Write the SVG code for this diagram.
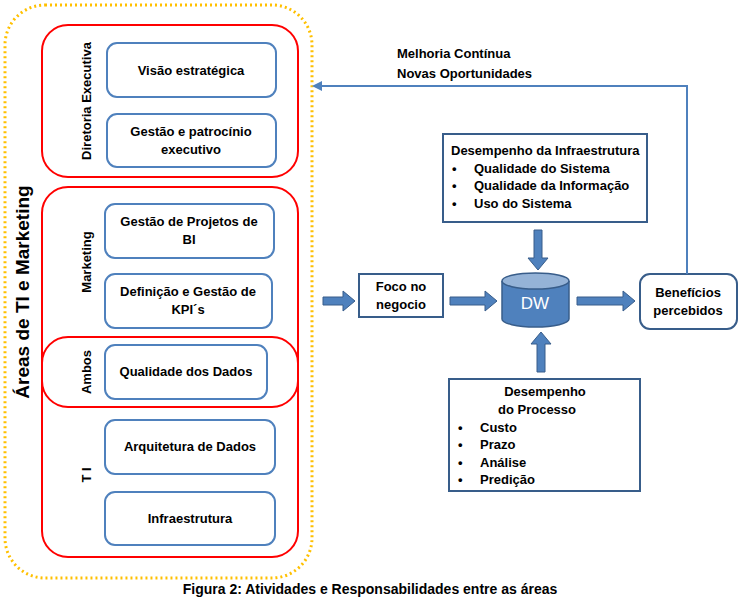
<svg xmlns="http://www.w3.org/2000/svg" width="740" height="601" viewBox="0 0 740 601">
<style>
text{font-family:"Liberation Sans",Arial,sans-serif;font-weight:bold;font-size:13px;fill:#000}
.b{fill:#fff;stroke:#4f81bd;stroke-width:2}
.r{fill:none;stroke:#ff0000;stroke-width:2}
.k{fill:#fff;stroke:#385d8a;stroke-width:2}
.ba{fill:#4f81bd;stroke:#385d8a;stroke-width:1}
.c{text-anchor:middle}
</style>
<defs><marker id="ah" markerWidth="10" markerHeight="10" refX="8" refY="5" orient="auto" markerUnits="userSpaceOnUse"><path d="M10,0 L0,5 L10,10z" transform="rotate(180 5 5)" fill="#4f81bd"/></marker></defs>
<rect x="5" y="5" width="307" height="573" rx="40" fill="none" stroke="#ffc000" stroke-width="3" stroke-dasharray="2 3"/>
<g id="dir"><rect class="r" x="42" y="25" width="256" height="152" rx="26"/><text class="c" transform="translate(91 101) rotate(-90)">Diretoria  Executiva</text></g>
<g id="mkt"><rect class="r" x="42" y="187" width="256" height="370" rx="26"/><text class="c" transform="translate(91 262) rotate(-90)">Marketing</text><text class="c" transform="translate(91 475) rotate(-90)">T I</text></g>
<g id="ambos"><rect class="r" x="42" y="337" width="256" height="70" rx="26"/><text class="c" transform="translate(91 372) rotate(-90)">Ambos</text></g>
<text class="c" style="font-size:19px" transform="translate(29 292) rotate(-90)">Áreas de TI e Marketing</text>
<g id="n1"><rect class="b" x="107" y="43" width="169" height="54" rx="10"/><text class="c" x="191" y="75">Visão estratégica</text></g>
<g id="n2"><rect class="b" x="107" y="114" width="169" height="53" rx="10"/><text class="c" x="191" y="136">Gestão e  patrocínio</text><text class="c" x="191" y="154">executivo</text></g>
<g id="n3"><rect class="b" x="105" y="204" width="169" height="54" rx="10"/><text class="c" x="189" y="226">Gestão de Projetos de</text><text class="c" x="189" y="244">BI</text></g>
<g id="n4"><rect class="b" x="105" y="274" width="167" height="54" rx="10"/><text class="c" x="188" y="296">Definição e Gestão de</text><text class="c" x="188" y="314">KPI´s</text></g>
<g id="n5"><rect class="b" x="105" y="345" width="162" height="54" rx="10"/><text class="c" x="186" y="376">Qualidade dos Dados</text></g>
<g id="n6"><rect class="b" x="105" y="420" width="170" height="54" rx="10"/><text class="c" x="190" y="451">Arquitetura de  Dados</text></g>
<g id="n7"><rect class="b" x="105" y="492" width="170" height="53" rx="10"/><text class="c" x="190" y="523">Infraestrutura</text></g>
<g id="foco"><rect class="k" x="359" y="274" width="84" height="43"/><text class="c" x="401" y="291">Foco no</text><text class="c" x="401" y="309">negocio</text></g>
<g id="dw"><path d="M502,281 v38 a33.5,8 0 0 0 67,0 v-38" fill="#4f81bd" stroke="#385d8a" stroke-width="1.5"/><ellipse cx="535.5" cy="281" rx="33.5" ry="8" fill="#95b3d7" stroke="#385d8a" stroke-width="1.5"/><text class="c" x="535" y="309" style="fill:#fff;font-weight:normal;font-size:17px">DW</text></g>
<g id="ben"><rect class="k" x="640" y="274" width="97" height="55" rx="10"/><text class="c" x="688" y="297">Benefícios</text><text class="c" x="688" y="315">percebidos</text></g>
<g id="infra"><rect class="k" x="443" y="134" width="204" height="88"/><text x="451" y="155">Desempenho da Infraestrutura</text>
<text x="452" y="173">•</text><text x="474" y="173">Qualidade do Sistema</text><text x="452" y="190">•</text><text x="474" y="190">Qualidade da Informação</text><text x="452" y="208">•</text><text x="474" y="208">Uso do Sistema</text></g>
<g id="proc"><rect class="k" x="449" y="379" width="191" height="112"/><text class="c" x="545" y="396">Desempenho</text><text class="c" x="537" y="414">do Processo</text>
<text x="458" y="432">•</text><text x="480" y="432">Custo</text><text x="458" y="449">•</text><text x="480" y="449">Prazo</text><text x="458" y="467">•</text><text x="480" y="467">Análise</text><text x="458" y="484">•</text><text x="480" y="484">Predição</text></g>
<g id="connectors">
<path class="ba" d="M323,297 h20 v-6 l12,10 l-12,10 v-6 h-20 z"/>
<path class="ba" d="M450,297 h35 v-6 l12,10 l-12,10 v-6 h-35 z"/>
<path class="ba" d="M577,297 h46 v-6 l12,10 l-12,10 v-6 h-46 z"/>
<path class="ba" d="M534,230 h8 v28 h6 l-10,12 l-10,-12 h6 z"/>
<path class="ba" d="M537,372 h8 v-28 h6 l-10,-12 l-10,12 h6 z"/>
<path d="M687,274 V86 H314" fill="none" stroke="#4f81bd" stroke-width="2" marker-end="url(#ah)"/>
</g>
<text x="397" y="58">Melhoria  Contínua</text>
<text x="397" y="78">Novas Oportunidades</text>
<text class="c" x="370" y="594" style="font-size:14px">Figura 2: Atividades e Responsabilidades entre as áreas</text>
</svg>
